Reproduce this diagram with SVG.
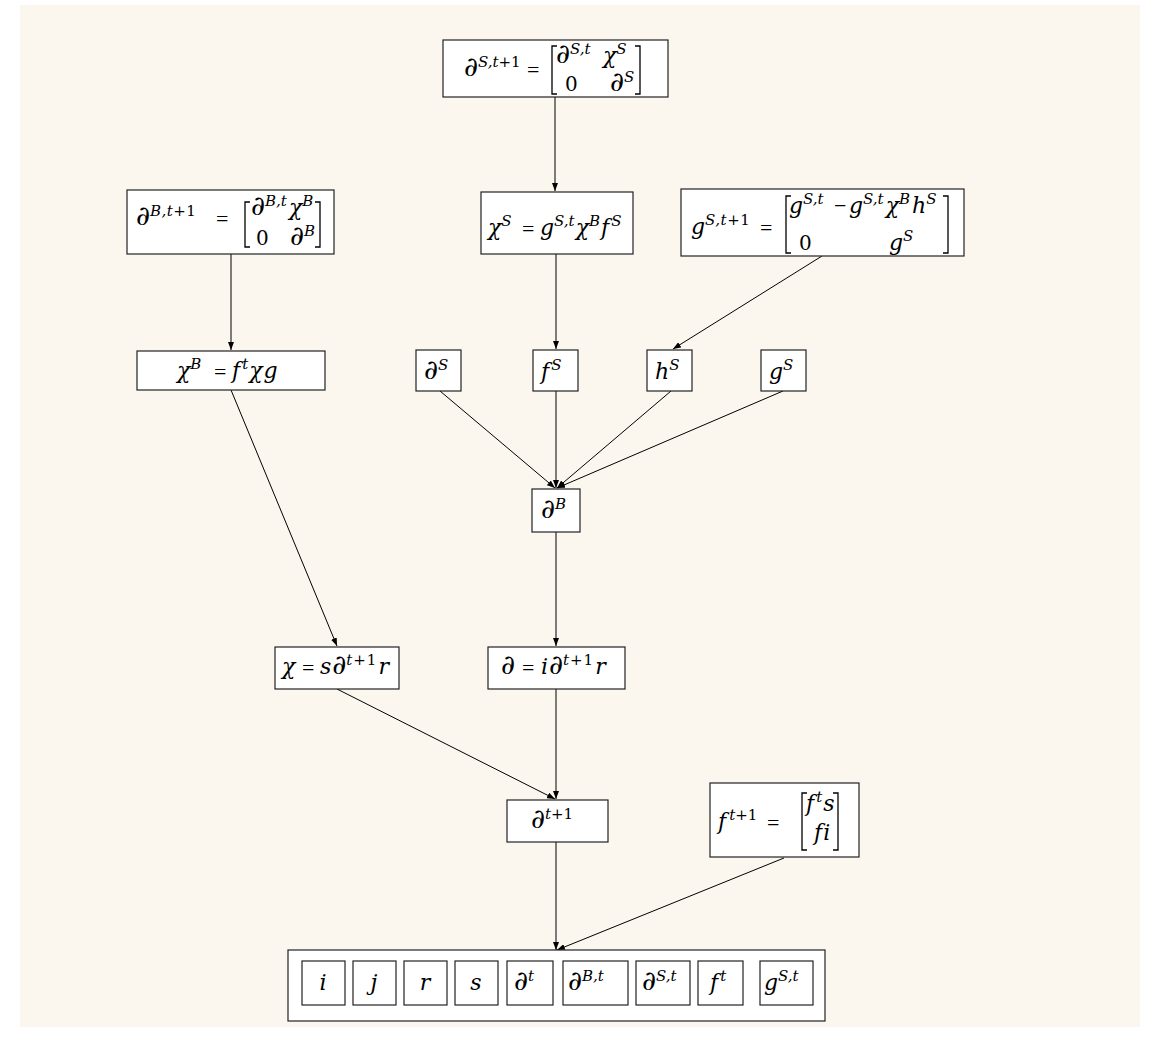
<svg xmlns="http://www.w3.org/2000/svg" width="1153" height="1049" viewBox="0 0 1153 1049">
<style>
.bg{fill:#FBF7EF}
.box{fill:#fff;stroke:#222;stroke-width:1.2}
.m{font-family:"DejaVu Serif","Liberation Serif",serif;font-style:italic;font-size:22px;fill:#000;font-variant-ligatures:none}
.p{font-size:27px}
.u{font-style:normal}
.d{font-style:normal;font-size:20px}
.s{font-size:15px}
.e{font-family:"Liberation Serif","DejaVu Serif",serif;font-style:normal;font-size:22px}
.br{fill:none;stroke:#000;stroke-width:1.3}
.edge{fill:none;stroke:#000;stroke-width:1;marker-end:url(#ah)}
</style>
<defs>
<marker id="ah" markerUnits="userSpaceOnUse" markerWidth="8" markerHeight="6" refX="8" refY="3" orient="auto">
<path d="M0,0 L8,3 L0,6 z" fill="#000"/>
</marker>
</defs>
<rect x="0" y="0" width="1153" height="1049" fill="#fff"/>
<rect class="bg" x="20" y="5" width="1120" height="1022"/>

<g id="connectors">
<path class="edge" d="M555,97 V191"/>
<path class="edge" d="M231,254 V350"/>
<path class="edge" d="M556,254 V349"/>
<path class="edge" d="M822,256 L673,349"/>
<path class="edge" d="M440,391 L555,488"/>
<path class="edge" d="M556,391 V488"/>
<path class="edge" d="M671,391 L557,488"/>
<path class="edge" d="M783,391 L557,488"/>
<path class="edge" d="M231,390 L337,646"/>
<path class="edge" d="M556,532 V646"/>
<path class="edge" d="M337,689 L555,799"/>
<path class="edge" d="M556,689 V799"/>
<path class="edge" d="M556,842 V950"/>
<path class="edge" d="M784,858 L557,950"/>
</g>

<g id="n_dS_t1">
<rect class="box" x="443" y="40" width="225" height="57"/>
<text class="m" x="464" y="76"><tspan class="p">∂</tspan><tspan class="s" y="67">S,t<tspan class="u">+1</tspan></tspan></text>
<text class="e" x="527" y="77">=</text>
<path class="br" d="M557,46 H552 V94 H557 M635,46 H640 V94 H635"/>
<text class="m" x="556" y="63"><tspan class="p">∂</tspan><tspan class="s" y="54">S,t</tspan><tspan x="603" y="63">χ</tspan><tspan class="s" y="54">S</tspan></text>
<text class="m" x="565" y="91"><tspan class="d">0</tspan><tspan class="p" x="610">∂</tspan><tspan class="s" y="82">S</tspan></text>
</g>

<g id="n_dB_t1">
<rect class="box" x="127" y="190" width="207" height="64"/>
<text class="m" x="136" y="225"><tspan class="p">∂</tspan><tspan class="s" y="216" letter-spacing="0.5">B,t<tspan class="u">+1</tspan></tspan></text>
<text class="e" x="216" y="226">=</text>
<path class="br" d="M250,202 H245 V247 H250 M315,202 H320 V247 H315"/>
<text class="m" x="251" y="215"><tspan class="p" font-size="24">∂</tspan><tspan class="s" y="206" font-size="13">B,t</tspan><tspan x="289" y="215">χ</tspan><tspan class="s" y="206" font-size="14">B</tspan></text>
<text class="m" x="256" y="245"><tspan class="d">0</tspan><tspan class="p" x="290" font-size="25">∂</tspan><tspan class="s" y="236" font-size="14">B</tspan></text>
</g>

<g id="n_chiS">
<rect class="box" x="481" y="192" width="152" height="62"/>
<text class="m" x="488" y="235">χ<tspan class="s" y="226">S</tspan><tspan class="e" x="522" y="236">=</tspan><tspan x="540" y="235">g</tspan><tspan class="s" y="226">S,t</tspan><tspan dx="1" y="235">χ</tspan><tspan class="s" y="226">B</tspan><tspan dx="1" y="235">f</tspan><tspan class="s" dx="2" y="226">S</tspan></text>
</g>

<g id="n_gS_t1">
<rect class="box" x="681" y="189" width="283" height="67"/>
<text class="m" x="691" y="234">g<tspan class="s" y="225" letter-spacing="0.5">S,t<tspan class="u">+1</tspan></tspan></text>
<text class="e" x="760" y="235">=</text>
<path class="br" d="M791,196 H786 V253 H791 M943,196 H948 V253 H943"/>
<text class="m" x="789" y="213">g<tspan class="s" y="204" font-size="14">S,t</tspan><tspan class="e" x="834" y="213">−</tspan><tspan x="849">g</tspan><tspan class="s" y="204" font-size="14">S,t</tspan><tspan dx="2" y="213">χ</tspan><tspan class="s" y="204" font-size="14">B</tspan><tspan dx="2" y="213">h</tspan><tspan class="s" y="204" font-size="14">S</tspan></text>
<text class="m" x="799" y="250"><tspan class="d">0</tspan><tspan x="889">g</tspan><tspan class="s" y="241">S</tspan></text>
</g>

<g id="n_chiB">
<rect class="box" x="137" y="351" width="188" height="39"/>
<text class="m" x="177" y="378">χ<tspan class="s" y="369">B</tspan><tspan class="e" x="214" y="379">=</tspan><tspan x="232" y="378">f</tspan><tspan class="s" dx="2" y="369">t</tspan><tspan dx="1" y="378">χ</tspan><tspan dx="1">g</tspan></text>
</g>

<g id="n_dS">
<rect class="box" x="416" y="350" width="45" height="41"/>
<text class="m" x="424" y="379"><tspan class="p">∂</tspan><tspan class="s" y="370">S</tspan></text>
</g>
<g id="n_fS">
<rect class="box" x="533" y="350" width="45" height="41"/>
<text class="m" x="541" y="379">f<tspan class="s" dx="2" y="370">S</tspan></text>
</g>
<g id="n_hS">
<rect class="box" x="647" y="350" width="45" height="41"/>
<text class="m" x="655" y="379">h<tspan class="s" y="370">S</tspan></text>
</g>
<g id="n_gS">
<rect class="box" x="761" y="350" width="45" height="41"/>
<text class="m" x="769" y="379">g<tspan class="s" y="370">S</tspan></text>
</g>

<g id="n_dB">
<rect class="box" x="532" y="489" width="48" height="43"/>
<text class="m" x="541" y="518"><tspan class="p">∂</tspan><tspan class="s" y="509">B</tspan></text>
</g>

<g id="n_chi">
<rect class="box" x="275" y="647" width="124" height="42"/>
<text class="m" x="282" y="674">χ<tspan class="e" x="302" y="675">=</tspan><tspan x="320" y="674">s</tspan><tspan class="p" dx="1">∂</tspan><tspan class="s" y="665" letter-spacing="1">t<tspan class="u">+1</tspan></tspan><tspan dx="1" y="674">r</tspan></text>
</g>

<g id="n_d">
<rect class="box" x="488" y="647" width="137" height="42"/>
<text class="m" x="501" y="674"><tspan class="p">∂</tspan><tspan class="e" x="522" y="675">=</tspan><tspan x="541" y="674">i</tspan><tspan class="p" dx="1">∂</tspan><tspan class="s" y="665" letter-spacing="1">t<tspan class="u">+1</tspan></tspan><tspan dx="1" y="674">r</tspan></text>
</g>

<g id="n_dt1">
<rect class="box" x="507" y="800" width="101" height="42"/>
<text class="m" x="531" y="828"><tspan class="p">∂</tspan><tspan class="s" y="819">t<tspan class="u">+1</tspan></tspan></text>
</g>

<g id="n_ft1">
<rect class="box" x="710" y="783" width="149" height="74"/>
<text class="m" x="718" y="829">f<tspan class="s" dx="3" y="820">t<tspan class="u">+1</tspan></tspan><tspan class="e" x="767" y="830">=</tspan></text>
<path class="br" d="M807,793 H802 V850 H807 M833,793 H838 V850 H833"/>
<text class="m" x="806" y="811">f<tspan class="s" dx="2" y="802">t</tspan><tspan dx="1" y="811">s</tspan></text>
<text class="m" x="814" y="840">f<tspan dx="1">i</tspan></text>
</g>

<g id="n_base">
<rect class="box" x="288" y="950" width="537" height="71"/>
<rect class="box" x="302" y="961" width="43" height="44"/>
<rect class="box" x="353" y="961" width="43" height="44"/>
<rect class="box" x="404" y="961" width="43" height="44"/>
<rect class="box" x="455" y="961" width="43" height="44"/>
<rect class="box" x="507" y="961" width="46" height="44"/>
<rect class="box" x="563" y="961" width="65" height="44"/>
<rect class="box" x="636" y="961" width="54" height="44"/>
<rect class="box" x="698" y="961" width="45" height="44"/>
<rect class="box" x="760" y="961" width="53" height="44"/>
<text class="m" x="323" y="990" text-anchor="middle">i</text>
<text class="m" x="374" y="990" text-anchor="middle">j</text>
<text class="m" x="425" y="990" text-anchor="middle">r</text>
<text class="m" x="476" y="990" text-anchor="middle">s</text>
<text class="m" x="514" y="990"><tspan class="p">∂</tspan><tspan class="s" y="981">t</tspan></text>
<text class="m" x="568" y="990"><tspan class="p">∂</tspan><tspan class="s" y="981">B,t</tspan></text>
<text class="m" x="642" y="990"><tspan class="p">∂</tspan><tspan class="s" y="981">S,t</tspan></text>
<text class="m" x="710" y="990">f<tspan class="s" dx="2" y="981">t</tspan></text>
<text class="m" x="764" y="990">g<tspan class="s" y="981">S,t</tspan></text>
</g>
</svg>
